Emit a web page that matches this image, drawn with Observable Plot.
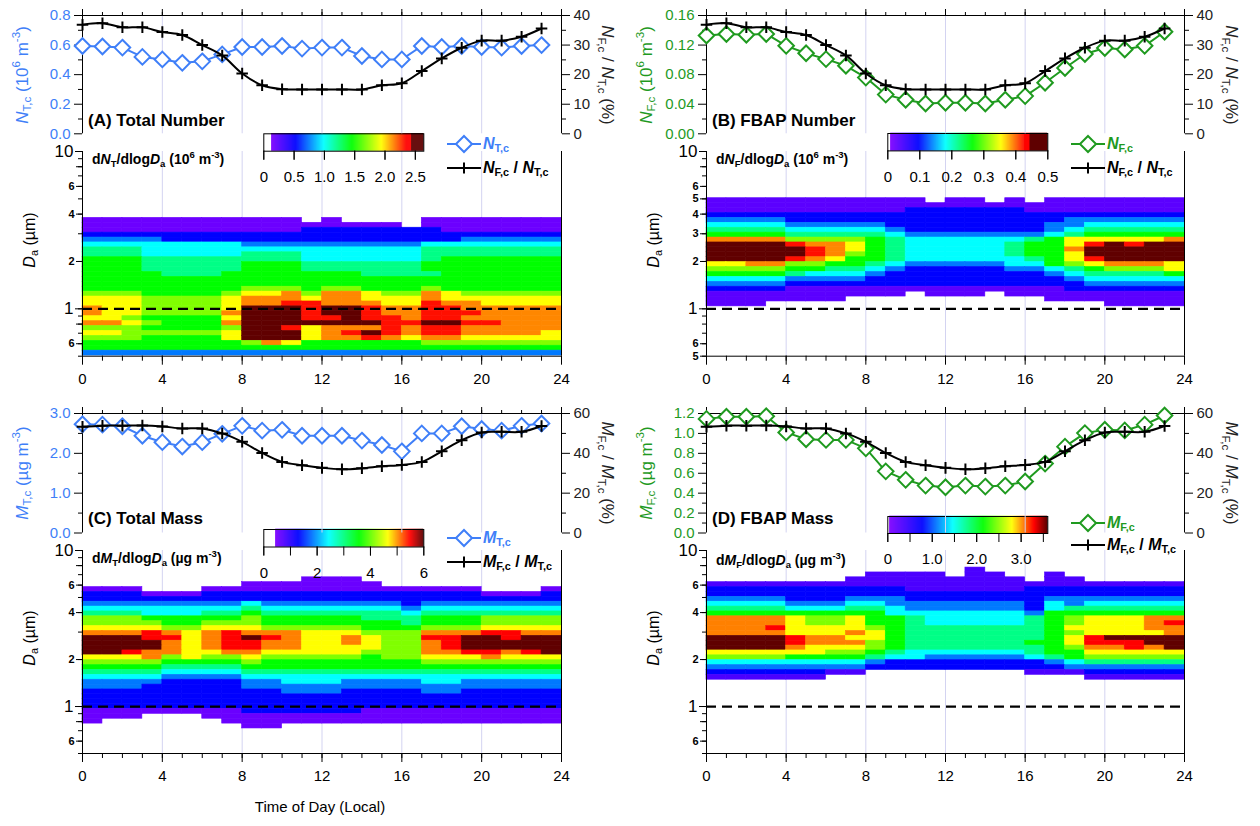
<!DOCTYPE html>
<html><head><meta charset="utf-8">
<script src="https://cdn.jsdelivr.net/npm/d3@7"></script>
<script src="https://cdn.jsdelivr.net/npm/@observablehq/plot@0.6"></script>
<style>
html,body{margin:0;padding:0;background:#fff}
#fig{position:relative;width:1260px;height:826px;overflow:hidden;font-family:"Liberation Sans",Arial,Helvetica,sans-serif;color:#000;background:#fff}
#fig svg{position:absolute;left:0;top:0}
.t{position:absolute;white-space:nowrap;line-height:1}
sub{font-size:0.68em;vertical-align:-0.3em;line-height:0}
sup{font-size:0.68em;vertical-align:0.62em;line-height:0}
</style></head><body><div id="fig"></div>
<script>
// ---------------- DATA ----------------
const hours = [0,1,2,3,4,5,6,7,8,9,10,11,12,13,14,15,16,17,18,19,20,21,22,23];
const NTc    = [0.594,0.59,0.583,0.52,0.503,0.48,0.49,0.537,0.587,0.587,0.594,0.576,0.583,0.583,0.526,0.503,0.503,0.594,0.587,0.594,0.587,0.583,0.594,0.6];
const ratioN = [36.9,37.4,36,36,34.4,33.4,30,26.5,20.4,16.4,15.1,15,15,15,15,16.4,17.1,21.2,25.5,29.1,31.5,31.5,32.8,35.6];
const NFc    = [0.133,0.135,0.134,0.135,0.119,0.109,0.101,0.092,0.076,0.053,0.046,0.041,0.042,0.042,0.041,0.046,0.051,0.069,0.089,0.108,0.116,0.114,0.119,0.138];
const MTc    = [2.73,2.72,2.68,2.44,2.28,2.17,2.28,2.49,2.69,2.57,2.59,2.44,2.44,2.44,2.32,2.21,2.05,2.5,2.5,2.68,2.61,2.57,2.69,2.75];
const ratioM = [53.3,53.9,53.9,54,53.5,52.5,52.5,50,45.8,40.2,35.7,34,32.7,32,32.5,33.5,34.2,35.7,41,46.6,50.5,50.8,50.8,53.7];
const MFc    = [1.146,1.167,1.167,1.173,1.01,0.942,0.935,0.935,0.85,0.619,0.534,0.476,0.459,0.476,0.466,0.476,0.517,0.697,0.867,1.003,1.037,1.03,1.088,1.18];

// size-resolved heat maps: one string per size bin (32 bins/decade), one char per hour
// level codes: 1 violet .. 8 yellow, 9 orange, a red, X above scale; '.' = no data
const topBinA = 18;
const heatA = [
"11111111111.1....1111111","1111111111111111.1111111","111111111112222222111111","222222222222222222222222",
"333322222222222222233333","444444443333333334444444","555444444444444445555555","555444445554444445555555",
"666555555554444445666666","666555556665555556666666","666555556665555556666666","666655566666665555666666",
"666666666666666666666666","666666666666666666666666","666666667776776667666666","777666678897998779877777",
"888777789998998889888888","8887777899aa99988a998888","98877778XXXaXXa99aa99999","98877779XXXaXXa99aaa9999",
"88766668XXXaaXaa9aa99999","99876669XXXXXXXaaXXaa999","77766667XXa8999a9aa99999","88777778XXX89aXa9aa99998",
"77766668XXX899a989988888","666666667986666667777777","666666666666666666666666","333333333333333333333333"];
const topBinB = 22;
const heatB = [
"11111111111.11.1.1111111","111111111111111111111111","111111111122222211111111","222222222222222222222222",
"333322222222222222333333","444433333222222223344444","555544444322222223455555","666655555433333334566666",
"999977776544444456888889","XXXXa99865444445668aXaXX","XXXXXa9865444445669XXXXX","XXXXXa9765444445668XXXXX",
"XXXXa98665444444568aXXXX","889977665433333446789998","777766554322222334567778","666654443222222223455556",
"444433332222222222344444","333322222222222222233333","222211111111111111222222","1111111111.111.111111111",
"1111111..........1111111","111.................1111"];
const topBinC = 26;
const heatC = [
"...........111..........","........1111111.........","111...11111111111111...1","222111222222222222221112",
"222222222222222222222222","333333334333333323333333","444444445444444434444444","555444556555555545555555",
"777666667666665556667777","777766777666666656667777","888877888777776667778888","999a989a999888777999aa99",
"XXXaa89aXa9889877aaXXaXX","XXXX989aa998898779aXXXXX","XXXX989aa998888779aXXXXX","XXa9988998888877799aa9aX",
"888978778777776778889888","777766667666666667777777","666655556666666666666666","555544445555555555555555",
"444433334444444444444444","333322223344433334433333","333222223333333333333333","222222222233322223322222",
"222222222222222222222222","222222222222222222222222","222222222222222222222222","111111112222221111111111",
"111...111111111111111111","1......11111111111111111","........11.............."];
const topBinD = 28;
const heatD = [
".............1..........","........1111.11..1......",".......111111111.11.....","111111111111111111111111",
"222222222211111122222222","222222222222222222222222","333322233322222223333333","444433344333333324344444",
"555544455433333324555555","666666666444444436666666","999987786654444456788899","99998778665444445678889a",
"999a88887655555556888899","999988898655555556788889","XXXXa99886555555568aXXXX","XXXXa99976555555668aaaXX",
"XXXX98887655555556799a9X","888888776544444456688888","777766665443333345677777","444444443222222223455555",
"333333332222222222333333","22222211........11122222","111111.............11111"];

// colour-level code -> fraction of the colour range
const levelFracAB = {"1":0.08,"2":0.22,"3":0.31,"4":0.41,"5":0.5,"6":0.6,"7":0.7,"8":0.8,"9":0.88,"a":0.96,"X":1.05};
const levelFracCD = {"1":0.1,"2":0.22,"3":0.31,"4":0.41,"5":0.5,"6":0.6,"7":0.69,"8":0.78,"9":0.85,"a":0.92,"X":1.0};

// axis tick values
const hourTicks = [0,1,2,3,4,5,6,7,8,9,10,11,12,13,14,15,16,17,18,19,20,21,22,23,24];
const hourMajor = [0,4,8,12,16,20,24];
const gridHours = [4,8,12,16,20];
const logMinor = [0.5,0.6,0.7,0.8,0.9,1,2,3,4,5,6,7,8,9,10];
const logSmallACD = [0.6,0.8,2,4,6,8];
const logSmallB = [0.5,0.6,2,3,4,5,6,8];
const logDecades = [1,10];

// ---------------- HELPERS ----------------
const FW = 1260, FH = 826;
const fig = document.getElementById("fig");
const FONT = '"Liberation Sans", Arial, sans-serif';
const BLUE = "#3f7ff8", GREEN = "#1f9a1f", GRID = "#d3d3f1", RIGHTC = "#222";
const baseStyle = {background:"transparent", overflow:"visible", fontFamily:FONT, fontSize:"15px", color:"#000", maxWidth:"none"};
function frame(x0,x1,y0,y1){ return {width:FW, height:FH, marginLeft:x0, marginRight:FW-x1, marginTop:y0, marginBottom:FH-y1, style:baseStyle}; }
const blank = () => "";
const logFmt = d => d >= 1 ? String(d) : String(Math.round(d*10));

function colorOpts(c){
  const v = c.vmax, w = c.white, e = v*1e-4;
  if (c.stepDark) return {type:"linear", interpolate:"rgb", clamp:true,
    domain:[0,w,w+e,0.22*v,0.41*v,0.6*v,0.8*v,0.97*v,v,v+e,10*v],
    range:["#ffffff","#ffffff","#8000ff","#0000ff","#00ffff","#00ff00","#ffff00","#ff0000","#ff0000","#600000","#600000"]};
  return {type:"linear", interpolate:"rgb", clamp:true,
    domain:[0,w,w+e,0.22*v,0.41*v,0.6*v,0.78*v,0.92*v,v,10*v],
    range:["#ffffff","#ffffff","#8000ff","#0000ff","#00ffff","#00ff00","#ffff00","#ff0000","#600000","#600000"]};
}

function heatmap(g, rows, topBin, c, smallLabels){
  const lf = c.stepDark ? levelFracAB : levelFracCD;
  const cells = [];
  rows.forEach((row, i) => {
    const j = topBin - i;
    [...row].forEach((ch, h) => {
      if (ch === ".") return;
      cells.push({h0:h, h1:h+1, lo:Math.pow(10,(j-0.5)/32), hi:Math.pow(10,(j+0.5)/32), v:lf[ch]*c.vmax});
    });
  });
  return Plot.plot({...frame(g.x0,g.x1,g.y0,g.y1),
    x:{domain:[0,24]}, y:{type:"log", domain:[0.5,10]}, color:colorOpts(c),
    marks:[
      Plot.ruleX(gridHours, {stroke:GRID, strokeWidth:1}),
      Plot.rect(cells, {x1:"h0", x2:"h1", y1:"lo", y2:"hi", fill:"v", stroke:"v", strokeWidth:0.6}),
      Plot.ruleY([1], {stroke:"#000", strokeWidth:2.2, strokeDasharray:"10,6"}),
      Plot.ruleX([0], {stroke:"#000"}), Plot.ruleX([24], {stroke:"#000"}), Plot.ruleY([0.5], {stroke:"#000"}),
      Plot.axisX({anchor:"bottom", ticks:hourTicks, tickSize:5, tickFormat:blank, label:null}),
      Plot.axisX({anchor:"bottom", ticks:hourMajor, tickSize:9, tickPadding:8, label:null}),
      Plot.axisY({anchor:"left", ticks:logMinor, tickSize:4, tickFormat:blank, label:null}),
      Plot.axisY({anchor:"left", ticks:smallLabels, tickSize:6, tickPadding:2, tickFormat:logFmt, fontSize:11, fontWeight:"bold", label:null}),
      Plot.axisY({anchor:"left", ticks:logDecades, tickSize:7, tickPadding:2, tickFormat:logFmt, fontSize:17, label:null})
    ]});
}

function colorbar(cb, c){
  const n = 320, step = cb.max/n;
  const steps = d3.range(n).map(i => i*step);
  return Plot.plot({...frame(cb.x0,cb.x1,cb.y0,cb.y1),
    x:{domain:[0,cb.max]}, color:colorOpts(c),
    marks:[
      Plot.rect(steps, {x1:d=>d, x2:d=>d+step, fill:d=>d+step/2, stroke:d=>d+step/2, strokeWidth:0.4}),
      Plot.frame({stroke:"#000", strokeWidth:1}),
      Plot.axisX({anchor:"bottom", ticks:cb.ticks, tickSize:9, tickFormat:blank, label:null}),
      Plot.axisX({anchor:"bottom", ticks:cb.labels, tickSize:9, tickPadding:11, tickFormat:cb.fmt, label:null})
    ]});
}

function topChart(g, t, leftVals, ratioVals, color){
  const table = hours.map((h,i) => ({h, v:leftVals[i], r:ratioVals[i]}));
  const f = frame(g.x0,g.x1,t.y0,t.y1);
  fig.appendChild(Plot.plot({...f, x:{domain:[0,24]}, y:{domain:t.left},
    marks:[
      Plot.ruleX(gridHours, {stroke:GRID, strokeWidth:1}),
      Plot.ruleX([0], {stroke:"#000"}), Plot.ruleY([t.left[1]], {stroke:"#000"}),
      Plot.axisX({anchor:"top", ticks:hourTicks, tickSize:4, tickFormat:blank, label:null}),
      Plot.axisX({anchor:"top", ticks:hourMajor, tickSize:7, tickFormat:blank, label:null}),
      Plot.axisY({anchor:"left", ticks:t.leftMinor, tickSize:4, tickFormat:blank, label:null}),
      Plot.axisY({anchor:"left", ticks:t.leftMajor, tickSize:8, tickPadding:4, tickFormat:t.leftFmt, fill:color, label:null}),
      Plot.line(table, {x:"h", y:"v", stroke:color, strokeWidth:2}),
      Plot.dot(table, {x:"h", y:"v", symbol:"diamond2", r:7, stroke:color, fill:"#fff", strokeWidth:2})
    ]}));
  fig.appendChild(Plot.plot({...f, x:{domain:[0,24], axis:null}, y:{domain:t.right},
    marks:[
      Plot.ruleX([24], {stroke:"#000"}),
      Plot.axisY({anchor:"right", ticks:t.rightMinor, tickSize:4, tickFormat:blank, label:null}),
      Plot.axisY({anchor:"right", ticks:t.rightMajor, tickSize:8, tickPadding:4, fill:RIGHTC, label:null}),
      Plot.line(table, {x:"h", y:"r", stroke:"#000", strokeWidth:2, curve:"catmull-rom"}),
      Plot.dot(table, {x:"h", y:"r", symbol:"plus", r:3.8, stroke:"#000", strokeWidth:2})
    ]}));
}

function T(html, x, y, o = {}){
  const d = document.createElement("div");
  d.className = "t"; d.innerHTML = html;
  const rot = o.rot || 0;
  const tx = (o.anchor === "middle" || rot) ? "-50%" : "0";
  d.style.left = x + "px"; d.style.top = y + "px";
  d.style.fontSize = (o.size || 15) + "px";
  d.style.color = o.color || "#000";
  d.style.fontWeight = o.weight || "normal";
  d.style.transform = `translate(${tx},-50%)` + (rot ? ` rotate(${rot}deg)` : "");
  fig.appendChild(d);
}
function legendRow(x, y, kind, color, textColor, html){
  const d = document.createElement("div");
  d.className = "t";
  d.style.cssText += `left:${x}px;top:${y}px;transform:translate(0,-50%);display:flex;align-items:center;font-size:16px;font-weight:bold;color:${textColor}`;
  const sym = kind === "diamond"
    ? `<path d="M17 2 L25 10 L17 18 L9 10 Z" fill="#fff" stroke="${color}" stroke-width="2"/>`
    : `<path d="M11.5 10 H22.5 M17 4.5 V15.5" stroke="${color}" stroke-width="2"/>`;
  d.innerHTML = `<svg width="34" height="20" style="position:static;overflow:visible"><line x1="0" y1="10" x2="34" y2="10" stroke="${color}" stroke-width="2"/>${sym}</svg><span style="margin-left:2px">${html}</span>`;
  fig.appendChild(d);
}

// ---------------- PANELS ----------------
const gA = {x0:82, x1:561}, gB = {x0:706, x1:1184};
const cA = {vmax:2.44, white:0.13, stepDark:true};
const cB = {vmax:0.445, white:0.01, stepDark:true};
const cC = {vmax:6, white:0.45, stepDark:false};
const cD = {vmax:3.6, white:0.05, stepDark:false};

fig.appendChild(heatmap({...gA, y0:151, y1:355.7}, heatA, topBinA, cA, logSmallACD));
fig.appendChild(heatmap({...gB, y0:151, y1:355.7}, heatB, topBinB, cB, logSmallB));
fig.appendChild(heatmap({...gA, y0:550, y1:753}, heatC, topBinC, cC, logSmallACD));
fig.appendChild(heatmap({...gB, y0:550, y1:753}, heatD, topBinD, cD, logSmallACD));

const f1 = d => d === 0 ? "0" : d.toFixed(1);
fig.appendChild(colorbar({x0:263.3, x1:423.3, y0:133.3, y1:150.7, max:2.64, ticks:[0,0.5,1,1.5,2,2.5], labels:[0,0.5,1,1.5,2,2.5], fmt:f1}, cA));
fig.appendChild(colorbar({x0:887.3, x1:1047.3, y0:133, y1:150.4, max:0.5, ticks:[0,0.1,0.2,0.3,0.4,0.5], labels:[0,0.1,0.2,0.3,0.4,0.5], fmt:f1}, cB));
fig.appendChild(colorbar({x0:263.3, x1:423.3, y0:529, y1:546.5, max:6, ticks:[0,1,2,3,4,5,6], labels:[0,2,4,6], fmt:d=>String(d)}, cC));
fig.appendChild(colorbar({x0:887.3, x1:1047.3, y0:516, y1:533, max:3.6, ticks:[0,0.5,1,1.5,2,2.5,3,3.5], labels:[0,1,2,3], fmt:f1}, cD));

const rightN = {right:[0,40], rightMajor:[0,10,20,30,40], rightMinor:[5,15,25,35]};
const rightM = {right:[0,60], rightMajor:[0,20,40,60], rightMinor:[10,30,50]};
topChart(gA, {y0:15, y1:133.3, left:[0,0.8], leftMajor:[0,0.2,0.4,0.6,0.8], leftMinor:[0.1,0.3,0.5,0.7], leftFmt:d=>d.toFixed(1), ...rightN}, NTc, ratioN, BLUE);
topChart(gB, {y0:15, y1:133.3, left:[0,0.16], leftMajor:[0,0.04,0.08,0.12,0.16], leftMinor:[0.02,0.06,0.1,0.14], leftFmt:d=>d.toFixed(2), ...rightN}, NFc, ratioN, GREEN);
topChart(gA, {y0:413, y1:532.5, left:[0,3], leftMajor:[0,1,2,3], leftMinor:[0.5,1.5,2.5], leftFmt:d=>d.toFixed(1), ...rightM}, MTc, ratioM, BLUE);
topChart(gB, {y0:413, y1:532.5, left:[0,1.2], leftMajor:[0,0.2,0.4,0.6,0.8,1,1.2], leftMinor:[0.1,0.3,0.5,0.7,0.9,1.1], leftFmt:d=>d.toFixed(1), ...rightM}, MFc, ratioM, GREEN);

// ---------------- TEXT ----------------
const um = "\u00b5";
// A
T("(A) Total Number", 88, 120, {size:17, weight:"bold"});
T("<i>N</i><sub>T,c</sub> (10<sup>6</sup> m<sup>-3</sup>)", 22, 75, {rot:-90, size:17, color:BLUE});
T("<i>N</i><sub>F,c</sub> / <i>N</i><sub>T,c</sub> (%)", 607, 75, {rot:90, size:17, color:RIGHTC});
T("d<i>N</i><sub>T</sub>/dlog<i>D</i><sub>a</sub> (10<sup>6</sup> m<sup>-3</sup>)", 92, 159, {size:14, weight:"bold"});
T(`<i>D</i><sub>a</sub> (${um}m)`, 30, 240, {rot:-90, size:16});
legendRow(447, 143.5, "diamond", BLUE, BLUE, "<i>N</i><sub>T,c</sub>");
legendRow(447, 168, "plus", "#000", "#000", "<i>N</i><sub>F,c</sub> / <i>N</i><sub>T,c</sub>");
// B
T("(B) FBAP Number", 712, 120, {size:17, weight:"bold"});
T("<i>N</i><sub>F,c</sub> (10<sup>6</sup> m<sup>-3</sup>)", 646, 75, {rot:-90, size:17, color:GREEN});
T("<i>N</i><sub>F,c</sub> / <i>N</i><sub>T,c</sub> (%)", 1231, 75, {rot:90, size:17, color:RIGHTC});
T("d<i>N</i><sub>F</sub>/dlog<i>D</i><sub>a</sub> (10<sup>6</sup> m<sup>-3</sup>)", 716, 159, {size:14, weight:"bold"});
T(`<i>D</i><sub>a</sub> (${um}m)`, 654, 240, {rot:-90, size:16});
legendRow(1071, 144, "diamond", GREEN, GREEN, "<i>N</i><sub>F,c</sub>");
legendRow(1071, 168, "plus", "#000", "#000", "<i>N</i><sub>F,c</sub> / <i>N</i><sub>T,c</sub>");
// C
T("(C) Total Mass", 88, 518, {size:17, weight:"bold"});
T(`<i>M</i><sub>T,c</sub> (${um}g m<sup>-3</sup>)`, 22, 473, {rot:-90, size:17, color:BLUE});
T("<i>M</i><sub>F,c</sub> / <i>M</i><sub>T,c</sub> (%)", 607, 473, {rot:90, size:17, color:RIGHTC});
T(`d<i>M</i><sub>T</sub>/dlog<i>D</i><sub>a</sub> (${um}g m<sup>-3</sup>)`, 92, 558, {size:14, weight:"bold"});
T(`<i>D</i><sub>a</sub> (${um}m)`, 30, 638, {rot:-90, size:16});
legendRow(447, 538, "diamond", BLUE, BLUE, "<i>M</i><sub>T,c</sub>");
legendRow(447, 562, "plus", "#000", "#000", "<i>M</i><sub>F,c</sub> / <i>M</i><sub>T,c</sub>");
// D
T("(D) FBAP Mass", 712, 518, {size:17, weight:"bold"});
T(`<i>M</i><sub>F,c</sub> (${um}g m<sup>-3</sup>)`, 646, 473, {rot:-90, size:17, color:GREEN});
T("<i>M</i><sub>F,c</sub> / <i>M</i><sub>T,c</sub> (%)", 1231, 473, {rot:90, size:17, color:RIGHTC});
T(`d<i>M</i><sub>F</sub>/dlog<i>D</i><sub>a</sub> (${um}g m<sup>-3</sup>)`, 716, 560, {size:14, weight:"bold"});
T(`<i>D</i><sub>a</sub> (${um}m)`, 654, 638, {rot:-90, size:16});
legendRow(1071, 523, "diamond", GREEN, GREEN, "<i>M</i><sub>F,c</sub>");
legendRow(1071, 545, "plus", "#000", "#000", "<i>M</i><sub>F,c</sub> / <i>M</i><sub>T,c</sub>");
// shared x title
T("Time of Day (Local)", 320, 806, {size:15, anchor:"middle"});
</script></body></html>
